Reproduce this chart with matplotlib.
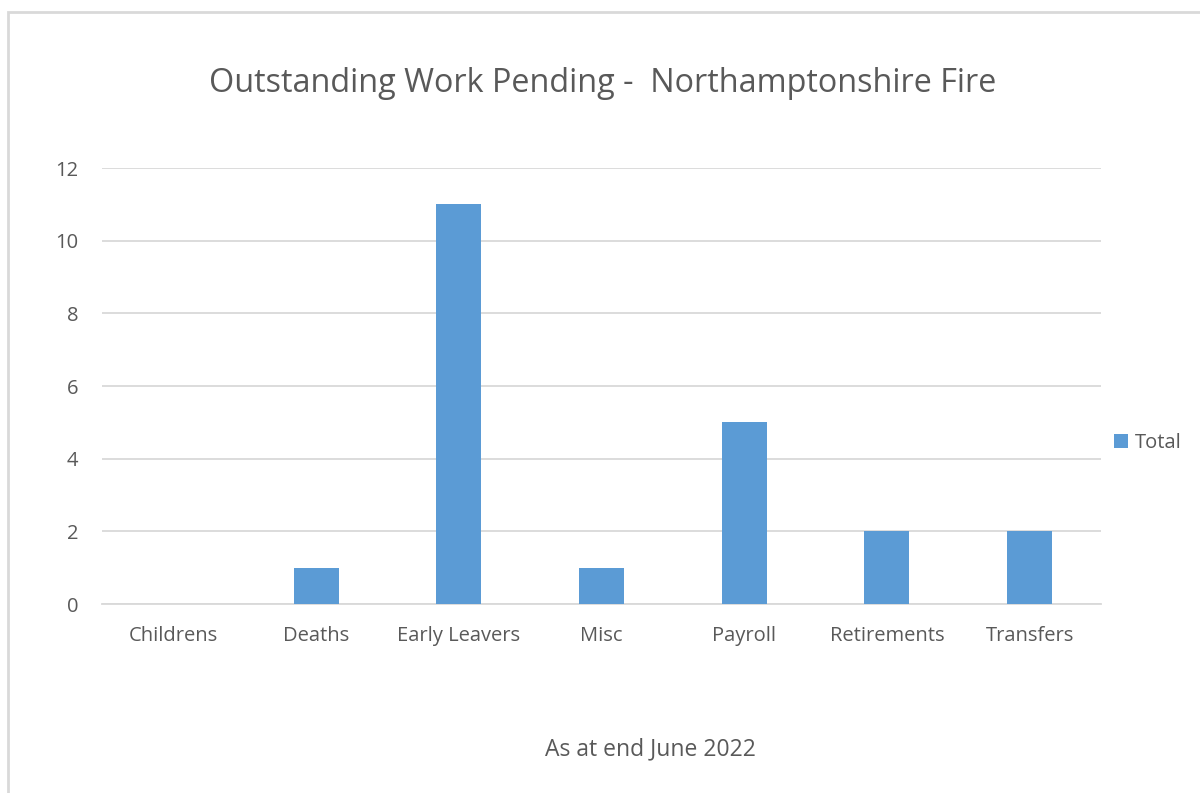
import matplotlib
matplotlib.use("Agg")
import matplotlib.pyplot as plt
from matplotlib.patches import Rectangle

categories = ["Childrens", "Deaths", "Early Leavers", "Misc", "Payroll", "Retirements", "Transfers"]
totals = [0, 1, 11, 1, 5, 2, 2]
y_ticks = [0, 2, 4, 6, 8, 10, 12]

plt.rcParams["font.family"] = ["Open Sans", "DejaVu Sans"]
TEXT = "#595959"
BAR = "#5b9bd5"
GRID = "#d9d9d9"

fig = plt.figure(figsize=(12, 7.93), dpi=100)
fig.patches.append(Rectangle((8 / 1200, -0.01), 1.1, 1 - 12 / 793 + 0.01,
                             transform=fig.transFigure, fill=False,
                             edgecolor="#d9d9d9", linewidth=2))

ax = fig.add_axes([102 / 1200, 1 - 604 / 793, (1101 - 102) / 1200, (604 - 168) / 793])
x = range(len(categories))
ax.bar(x, totals, width=0.315, color=BAR, label="Total", zorder=3)
ax.set_xlim(-0.5, len(categories) - 0.5)
ax.set_ylim(0, 12)
ax.set_yticks(y_ticks)
ax.set_xticks(list(x))
ax.set_xticklabels(categories)
ax.grid(axis="y", color=GRID, linewidth=1.3, zorder=0)
for side in ["top", "right", "left"]:
    ax.spines[side].set_visible(False)
ax.spines["bottom"].set_color(GRID)
ax.spines["bottom"].set_linewidth(1.3)
ax.tick_params(axis="both", length=0, colors=TEXT, labelsize=14.5)
ax.tick_params(axis="x", pad=16)
ax.tick_params(axis="y", pad=17)

fig.text(603 / 1200, 1 - 83 / 793, "Outstanding Work Pending -  Northamptonshire Fire",
         ha="center", va="center", fontsize=23.3, color=TEXT)
fig.text(650 / 1200, 1 - 749 / 793, "As at end June 2022",
         ha="center", va="center", fontsize=16.5, color=TEXT)

ax.legend(loc="center left", bbox_to_anchor=(1.0, 0.37), frameon=False,
          fontsize=14.5, labelcolor=TEXT, handlelength=0.7, handleheight=0.7,
          handletextpad=0.35, borderaxespad=0.25)

fig.savefig("out.png", dpi=100, facecolor="white")
